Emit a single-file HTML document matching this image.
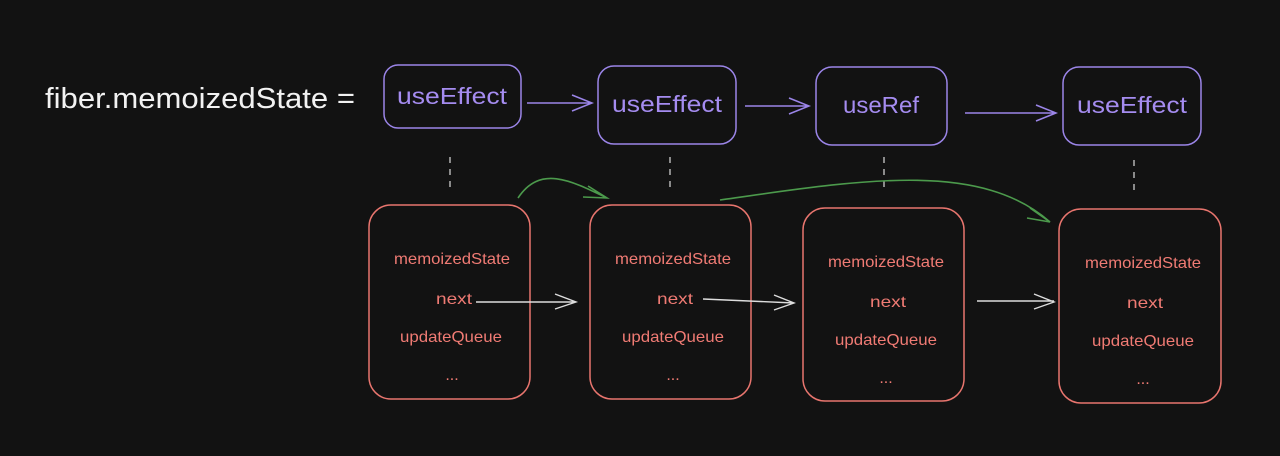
<!DOCTYPE html>
<html><head><style>
html,body{margin:0;padding:0;background:#121212;}
svg{display:block}
text{font-family:"Liberation Sans",sans-serif;}
</style></head><body>
<svg width="1280" height="456" viewBox="0 0 1280 456">
<rect width="1280" height="456" fill="#121212"/>
<text x="45" y="108" fill="#f2f2f2" font-size="29" textLength="310" lengthAdjust="spacingAndGlyphs">fiber.memoizedState =</text>
<g fill="none" stroke="#9b85e8" stroke-width="1.5">
<rect x="384" y="65" width="137" height="63" rx="14"/>
<rect x="598" y="66" width="138" height="78" rx="16"/>
<rect x="816" y="67" width="131" height="78" rx="16"/>
<rect x="1063" y="67" width="138" height="78" rx="16"/>
<path d="M527 103 H592 M572 95 L592 103 L572 111"/>
<path d="M745 106 H809 M789 98 L809 106 L789 114"/>
<path d="M965 113 H1056 M1036 105 L1056 113 L1036 121"/>
</g>
<g fill="#a58cf0" font-size="23" text-anchor="middle" lengthAdjust="spacingAndGlyphs">
<text x="452" y="104" textLength="110" lengthAdjust="spacingAndGlyphs">useEffect</text>
<text x="667" y="112" textLength="110" lengthAdjust="spacingAndGlyphs">useEffect</text>
<text x="881" y="113" textLength="76" lengthAdjust="spacingAndGlyphs">useRef</text>
<text x="1132" y="113" textLength="110" lengthAdjust="spacingAndGlyphs">useEffect</text>
</g>
<g stroke="#cccccc" stroke-width="1.3" stroke-dasharray="6 6">
<path d="M450 157 V187"/><path d="M670 157 V187"/><path d="M884 157 V190"/><path d="M1134 160 V190"/>
</g>
<g fill="none" stroke="#e8756e" stroke-width="1.5">
<rect x="369" y="205" width="161" height="194" rx="22"/>
<rect x="590" y="205" width="161" height="194" rx="22"/>
<rect x="803" y="208" width="161" height="193" rx="22"/>
<rect x="1059" y="209" width="162" height="194" rx="22"/>
</g>
<g fill="#f07b74" font-size="16" text-anchor="middle">
<text x="452" y="264" textLength="116" lengthAdjust="spacingAndGlyphs">memoizedState</text><text x="454" y="304" textLength="36" lengthAdjust="spacingAndGlyphs">next</text><text x="451" y="342" textLength="102" lengthAdjust="spacingAndGlyphs">updateQueue</text><text x="452" y="380">...</text>
<text x="673" y="264" textLength="116" lengthAdjust="spacingAndGlyphs">memoizedState</text><text x="675" y="304" textLength="36" lengthAdjust="spacingAndGlyphs">next</text><text x="673" y="342" textLength="102" lengthAdjust="spacingAndGlyphs">updateQueue</text><text x="673" y="380">...</text>
<text x="886" y="267" textLength="116" lengthAdjust="spacingAndGlyphs">memoizedState</text><text x="888" y="307" textLength="36" lengthAdjust="spacingAndGlyphs">next</text><text x="886" y="345" textLength="102" lengthAdjust="spacingAndGlyphs">updateQueue</text><text x="886" y="383">...</text>
<text x="1143" y="268" textLength="116" lengthAdjust="spacingAndGlyphs">memoizedState</text><text x="1145" y="308" textLength="36" lengthAdjust="spacingAndGlyphs">next</text><text x="1143" y="346" textLength="102" lengthAdjust="spacingAndGlyphs">updateQueue</text><text x="1143" y="384">...</text>
</g>
<g fill="none" stroke="#dddddd" stroke-width="1.4">
<path d="M476 302 H576 M555 294 L576 302 L555 309"/>
<path d="M703 299 L794 303 M774 295 L794 303 L774 310"/>
<path d="M977 301 H1054 M1034 294 L1054 302 L1034 309"/>
</g>
<g fill="none" stroke="#4c9a4c" stroke-width="1.6">
<path d="M518 198 C540 165 570 180 607 198 M588 186 L607 198 L583 197"/>
<path d="M720 200 C860 180 980 160 1050 222 M1030 208 L1050 222 L1027 218"/>
</g>
</svg>
</body></html>
